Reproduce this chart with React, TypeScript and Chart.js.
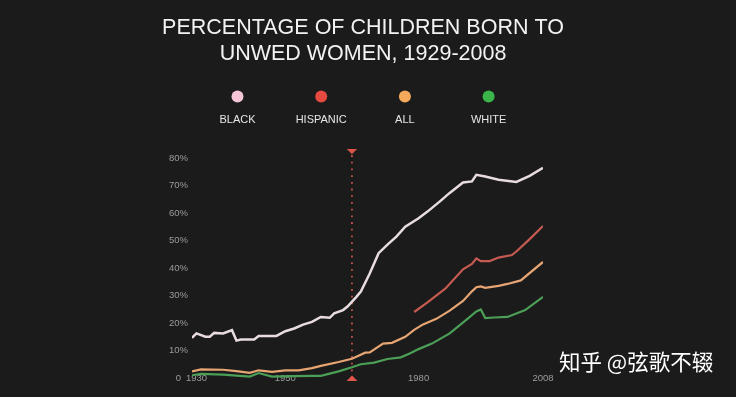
import React, { useEffect, useRef } from 'react';
import { Chart, registerables } from 'chart.js';

Chart.register(...registerables);

const titleLines = ['PERCENTAGE OF CHILDREN BORN TO', 'UNWED WOMEN, 1929-2008'];
const seriesNames = ['BLACK', 'HISPANIC', 'ALL', 'WHITE'];
const legendColors = ['#f4c6d7', '#e5493f', '#f5a95b', '#3bb54a'];
const lineColors = ['#e8dce0', '#c55a50', '#e6a572', '#4b9f57'];

const blackYears = [1929, 1930, 1932, 1933, 1934, 1936, 1938, 1939, 1940, 1943, 1944, 1948, 1950, 1952, 1954, 1956, 1958, 1960, 1961, 1963, 1964, 1966, 1967, 1969, 1971, 1973, 1975, 1977, 1980, 1982, 1985, 1987, 1990, 1992, 1993, 1995, 1998, 2002, 2005, 2008];
const blackValues = [14.6, 16.2, 15.0, 15.0, 16.4, 16.2, 17.4, 13.6, 14.0, 14.0, 15.3, 15.3, 17.0, 18.0, 19.4, 20.4, 22.2, 21.9, 23.5, 24.7, 26.0, 29.5, 31.4, 38.0, 45.4, 48.5, 51.4, 55.0, 58.1, 60.5, 64.5, 67.3, 71.1, 71.5, 73.9, 73.3, 72.1, 71.3, 73.5, 76.4];

const hispanicYears = [1979, 1982, 1986, 1990, 1992, 1993, 1994, 1996, 1998, 2001, 2002, 2005, 2008];
const hispanicValues = [24.0, 27.5, 32.5, 39.5, 41.5, 43.5, 42.5, 42.5, 43.8, 44.7, 46.0, 50.5, 55.3];

const allYears = [1929, 1931, 1936, 1939, 1942, 1944, 1947, 1950, 1953, 1956, 1958, 1962, 1965, 1968, 1969, 1972, 1974, 1977, 1979, 1981, 1984, 1987, 1990, 1992, 1993, 1994, 1995, 1998, 2000, 2003, 2008];
const allValues = [2.4, 3.1, 3.0, 2.5, 1.9, 2.8, 2.2, 2.8, 2.8, 3.6, 4.4, 5.8, 7.0, 9.2, 9.3, 12.5, 12.8, 15.0, 17.5, 19.5, 21.5, 24.5, 28.0, 31.5, 33.0, 33.3, 32.8, 33.5, 34.2, 35.5, 42.2];

const whiteYears = [1929, 1931, 1936, 1942, 1944, 1947, 1952, 1956, 1958, 1960, 1962, 1965, 1967, 1970, 1973, 1976, 1978, 1980, 1983, 1987, 1991, 1993, 1994, 1995, 1997, 2000, 2004, 2008];
const whiteValues = [1.0, 1.5, 1.2, 0.5, 1.8, 0.5, 0.7, 0.8, 0.8, 1.6, 2.4, 3.9, 5.0, 5.6, 6.9, 7.5, 8.9, 10.5, 12.5, 16.2, 21.5, 24.2, 24.9, 21.8, 22.0, 22.2, 24.7, 29.5];

const xTickValues = [1930, 1950, 1980, 2008];
const yTickValues = [0, 10, 20, 30, 40, 50, 60, 70, 80];
const markerYear = 1965;
const markerRange = [0, 82.3];
const watermark = '知乎 @弦歌不辍';

const toPoints = (xs: number[], ys: number[]) => xs.map((x, i) => ({ x, y: ys[i] }));

function makeTriangle(): HTMLCanvasElement {
  const c = document.createElement('canvas');
  c.width = 12;
  c.height = 6;
  const g = c.getContext('2d')!;
  g.fillStyle = '#e0574a';
  g.beginPath();
  g.moveTo(0.5, 6);
  g.lineTo(11.5, 6);
  g.lineTo(6, 0.5);
  g.closePath();
  g.fill();
  return c;
}

const overlayPlugin = {
  id: 'overlay',
  afterDraw(chart: any) {
    const ctx = chart.ctx as CanvasRenderingContext2D;
    ctx.save();
    ctx.textAlign = 'center';
    ctx.textBaseline = 'middle';
    ctx.fillStyle = '#f2f2f2';
    ctx.font = '21.5px "Liberation Sans", Arial, sans-serif';
    titleLines.forEach((t, i) => ctx.fillText(t, 363, 28 + i * 26));
    seriesNames.forEach((n, i) => {
      const cx = 237.5 + i * 83.7;
      ctx.beginPath();
      ctx.arc(cx, 96.5, 6, 0, Math.PI * 2);
      ctx.fillStyle = legendColors[i];
      ctx.fill();
      ctx.fillStyle = '#e6e6e6';
      ctx.font = '11px "Liberation Sans", Arial, sans-serif';
      ctx.fillText(n, cx, 119.5);
    });
    ctx.textAlign = 'left';
    ctx.fillStyle = '#ffffff';
    ctx.font = '21.5px "Noto Sans CJK SC", sans-serif';
    ctx.fillText(watermark, 559, 362);
    ctx.restore();
  },
};

export default function App() {
  const ref = useRef<HTMLCanvasElement | null>(null);
  useEffect(() => {
    document.body.style.margin = '0';
    document.body.style.background = '#1b1b1b';
    if (!ref.current) return;
    const tri = makeTriangle();
    const lineDs = (i: number, xs: number[], ys: number[], w: number) => ({
      label: seriesNames[i],
      data: toPoints(xs, ys),
      borderColor: lineColors[i],
      backgroundColor: lineColors[i],
      borderWidth: w,
      pointRadius: 0,
      tension: 0,
      fill: false,
    });
    const chart = new Chart(ref.current, {
      type: 'line',
      data: {
        datasets: [
          lineDs(0, blackYears, blackValues, 2.5),
          lineDs(1, hispanicYears, hispanicValues, 2.2),
          lineDs(2, allYears, allValues, 2.2),
          lineDs(3, whiteYears, whiteValues, 2.2),
          {
            label: 'marker',
            data: markerRange.map((y) => ({ x: markerYear, y })),
            borderColor: 'rgba(200,85,75,0.95)',
            borderWidth: 1.8,
            borderDash: [1.8, 4.9],
            pointStyle: tri as any,
            pointRotation: [0, 180],
            pointRadius: 6,
            pointHoverRadius: 6,
            clip: false as any,
          } as any,
        ],
      },
      options: {
        responsive: false,
        animation: false,
        events: [],
        layout: { padding: { left: 160, right: 193, top: 158, bottom: 9 } },
        plugins: {
          legend: { display: false },
          title: { display: false },
          tooltip: { enabled: false },
        },
        scales: {
          x: {
            type: 'linear',
            min: 1929,
            max: 2008,
            grid: { display: false, drawTicks: false },
            border: { display: false },
            afterBuildTicks: (s: any) => {
              s.ticks = xTickValues.map((v) => ({ value: v }));
            },
            afterFit: (s: any) => {
              s.height = 10;
            },
            ticks: {
              autoSkip: false,
              maxRotation: 0,
              mirror: true,
              padding: -6,
              color: '#9c9c9c',
              font: { size: 9.5, family: '"Liberation Sans", Arial, sans-serif' },
              callback: (v: any) => String(v),
            },
          },
          y: {
            type: 'linear',
            min: 0,
            max: 80,
            grid: { display: false, drawTicks: false },
            border: { display: false },
            afterBuildTicks: (s: any) => {
              s.ticks = yTickValues.map((v) => ({ value: v }));
            },
            afterFit: (s: any) => {
              s.width = 32;
            },
            ticks: {
              crossAlign: 'center',
              padding: 4,
              color: '#9c9c9c',
              font: { size: 9.5, family: '"Liberation Sans", Arial, sans-serif' },
              callback: (v: any) => (v === 0 ? '0' : v + '%'),
            },
          },
        },
      },
      plugins: [overlayPlugin],
    });
    return () => chart.destroy();
  }, []);
  return (
    <div style={{ width: 736, height: 397, background: '#1b1b1b' }}>
      <canvas ref={ref} width={736} height={397} style={{ display: 'block' }} />
    </div>
  );
}
